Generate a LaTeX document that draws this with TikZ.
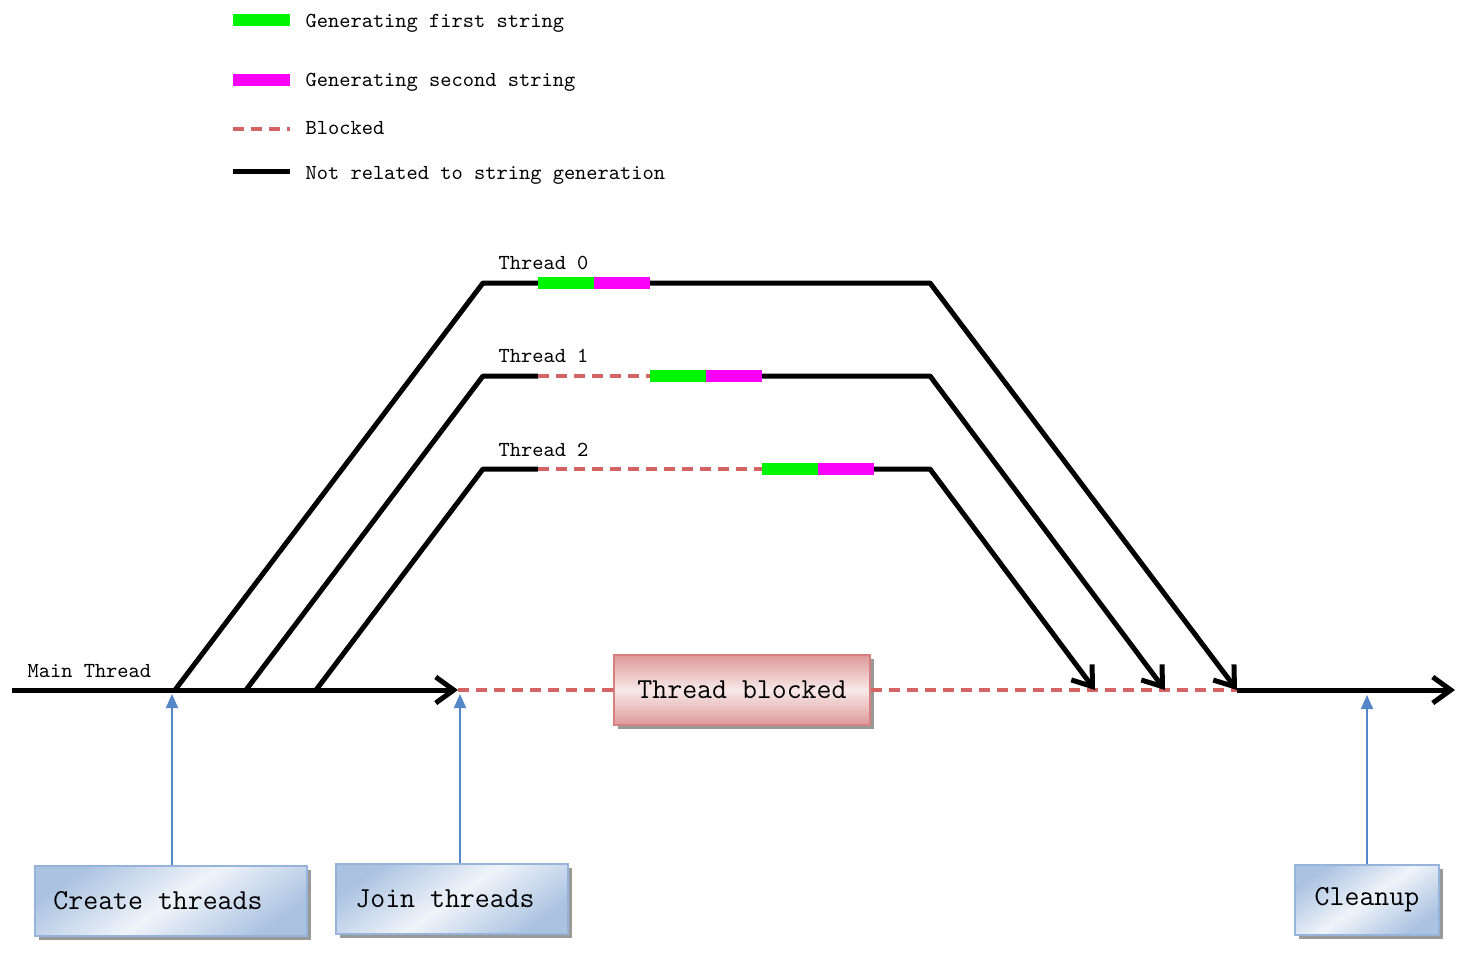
\documentclass[tikz,border=0pt]{standalone}
\usepackage{fontspec}
\usetikzlibrary{arrows.meta,shadows}

\definecolor{genfirst}{RGB}{0,245,0}
\definecolor{gensecond}{RGB}{250,0,250}
\definecolor{blockred}{RGB}{212,100,100}
\definecolor{callblue}{RGB}{85,135,200}
\definecolor{boxblue}{RGB}{150,180,218}
\definecolor{boxred}{RGB}{214,128,128}

\begin{document}
\begin{tikzpicture}[x=0.5pt, y=-0.5pt, semithick,
    font=\ttfamily\fontsize{10.7}{12}\selectfont,
    >={Straight Barb[length=9pt,width=13pt]}]

    \tikzstyle{work}=[line width=2.5pt, black, line join=round]
    \tikzstyle{first}=[line width=6pt, genfirst]
    \tikzstyle{second}=[line width=6pt, gensecond]
    \tikzstyle{blocked}=[line width=1.6pt, blockred, dash pattern=on 5.5pt off 3.5pt]
    \tikzstyle{call}=[line width=1pt, callblue, -{Triangle[length=7pt,width=6pt]}]
    \tikzstyle{tlabel}=[anchor=base west, inner sep=0pt]
    \tikzstyle{stepbox}=[draw=boxblue, line width=1pt, minimum height=35pt,
        font=\ttfamily\fontsize{14.5}{16}\selectfont,
        top color=boxblue!80, bottom color=boxblue!80, middle color=boxblue!15,
        shading angle=35,
        drop shadow={shadow xshift=2pt, shadow yshift=-2pt, fill=black!40, opacity=1}]
    \tikzstyle{waitbox}=[stepbox, draw=boxred,
        top color=boxred!80, bottom color=boxred!80, middle color=boxred!18]

    \useasboundingbox (0,0) rectangle (1468,974);

    % legend
    \draw[first]   (233,20)  -- (290,20);
    \draw[second]  (233,80)  -- (290,80);
    \draw[blocked] (233,129) -- (290,129);
    \draw[work]    (233,172) -- (290,172);
    \node[tlabel] (lg0) at (305,28)  {Generating first string};
    \node[tlabel] (lg1) at (305,87)  {Generating second string};
    \node[tlabel] (lg2) at (305,135) {Blocked};
    \node[tlabel] (lg3) at (305,180) {Not related to string generation};

    % main thread
    \coordinate (ms) at (12,690);
    \coordinate (f0) at (175,690);
    \coordinate (f1) at (246,690);
    \coordinate (f2) at (316,690);
    \coordinate (jn) at (458,690);
    \coordinate (e2) at (1095,690);
    \coordinate (e1) at (1165,690);
    \coordinate (e0) at (1237,690);
    \coordinate (me) at (1455,690);
    \node[tlabel] (mlabel) at (27,677) {Main Thread};

    \node[waitbox, minimum width=128pt] (tb) at (742,690) {Thread blocked};
    \draw[blocked] (jn) -- (tb.west);
    \draw[blocked] (tb.east) -- (e0);
    \draw[work,->] (ms) -- (jn);
    \draw[work,->] (e0) -- (me);

    % thread 0
    \coordinate (t0s) at (483,283);
    \coordinate (t0g) at (538,283);
    \coordinate (t0m) at (594,283);
    \coordinate (t0k) at (650,283);
    \coordinate (t0e) at (930,283);
    \node[tlabel] (t0) at (498,269) {Thread 0};
    \draw[work,->] (f0) -- (t0s) -- (t0e) -- (e0);
    \draw[first]  (t0g) -- (t0m);
    \draw[second] (t0m) -- (t0k);

    % thread 1
    \coordinate (t1s) at (483,376);
    \coordinate (t1b) at (538,376);
    \coordinate (t1g) at (650,376);
    \coordinate (t1m) at (706,376);
    \coordinate (t1k) at (762,376);
    \coordinate (t1e) at (930,376);
    \node[tlabel] (t1) at (498,362) {Thread 1};
    \draw[work] (f1) -- (t1s) -- (t1b);
    \draw[blocked] (t1b) -- (t1g);
    \draw[first]  (t1g) -- (t1m);
    \draw[second] (t1m) -- (t1k);
    \draw[work,->] (t1k) -- (t1e) -- (e1);

    % thread 2
    \coordinate (t2s) at (483,469);
    \coordinate (t2b) at (538,469);
    \coordinate (t2g) at (762,469);
    \coordinate (t2m) at (818,469);
    \coordinate (t2k) at (874,469);
    \coordinate (t2e) at (930,469);
    \node[tlabel] (t2) at (498,456) {Thread 2};
    \draw[work] (f2) -- (t2s) -- (t2b);
    \draw[blocked] (t2b) -- (t2g);
    \draw[first]  (t2g) -- (t2m);
    \draw[second] (t2m) -- (t2k);
    \draw[work,->] (t2k) -- (t2e) -- (e2);

    % calls on the main thread
    \node[stepbox, minimum width=136pt]  (create)  at (171,901)  {Create threads\kern13pt};
    \node[stepbox, minimum width=116pt]  (join)    at (452,899)  {Join threads\kern7pt};
    \node[stepbox, minimum width=72pt]   (cleanup) at (1367,900) {Cleanup};
    \coordinate (ca) at (172,694);
    \coordinate (ja) at (460,694);
    \coordinate (ua) at (1367,695);
    \draw[call] (ca |- create.north) -- (ca);
    \draw[call] (ja |- join.north) -- (ja);
    \draw[call] (ua |- cleanup.north) -- (ua);
\end{tikzpicture}
\end{document}
